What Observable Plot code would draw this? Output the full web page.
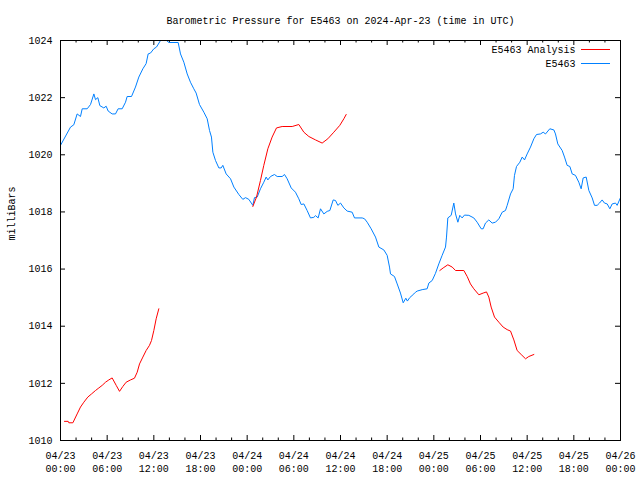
<!DOCTYPE html>
<html>
<head>
<meta charset="utf-8">
<script src="https://cdn.jsdelivr.net/npm/d3@7"></script>
<script src="https://cdn.jsdelivr.net/npm/@observablehq/plot@0.6"></script>
<style>
  html, body { margin: 0; padding: 0; background: white; }
  #chart { position: relative; width: 640px; height: 480px; }
  .swatch { position: absolute; height: 1px; }
</style>
</head>
<body>
<div id="chart"></div>
<script>
const titleText = "Barometric Pressure for E5463 on 2024-Apr-23 (time in UTC)";
const yLabel = "milliBars";
const seriesNames = ["E5463 Analysis", "E5463"];
const seriesColors = ["#ff0000", "#0080ff"];
const startDate = Date.UTC(2024, 3, 23);
const endHours = 72;
const yTicks = [1010, 1012, 1014, 1016, 1018, 1020, 1022, 1024];

// Observed station series: hours after 2024-04-23 00:00 UTC, pressure (mb)
const obsHours = [0,1.29,1.71,2.14,2.57,2.79,3.43,3.86,4.29,4.5,4.8,5.06,5.57,5.87,6.13,6.64,7.07,7.41,7.93,8.36,8.57,9.13,9.64,10.07,10.59,11.01,11.27,11.57,12.0,12.34,12.86,13.4,13.93,15.13,15.43,15.86,16.29,16.71,17.14,17.44,17.87,18.43,18.86,19.16,19.41,19.59,19.93,20.36,20.66,20.87,21.3,21.86,22.29,22.93,23.44,23.79,24.21,24.73,24.94,25.29,25.71,26.14,26.44,26.66,27.0,27.51,27.86,28.5,28.8,29.14,29.66,30.21,30.64,30.94,31.29,31.71,32.14,32.57,32.79,33.13,33.43,33.86,34.29,34.63,35.06,35.36,35.66,36.0,36.43,36.86,37.5,37.8,38.79,39.09,39.43,39.94,40.5,40.93,41.57,42.0,42.3,42.43,42.94,43.29,43.71,44.06,44.4,44.6,44.9,45.43,45.64,45.86,46.5,47.14,47.36,47.79,48.21,48.64,49.07,49.5,49.63,49.8,50.23,50.57,50.79,51.09,51.34,51.64,51.94,52.5,53.14,53.57,54.09,54.34,54.64,55.07,55.5,55.93,56.36,56.79,57.21,57.43,57.86,58.2,58.37,58.63,59.06,59.36,59.66,60.0,60.43,60.86,61.2,61.71,62.06,62.36,62.91,63.43,63.64,63.94,64.5,64.8,65.14,65.49,65.79,66.21,66.64,66.94,67.2,67.59,67.93,68.36,68.66,69.0,69.3,69.64,69.94,70.29,70.63,70.93,71.36,71.57,72.0];
const obsPressure = [1020.33,1020.97,1021.05,1021.43,1021.34,1021.61,1021.61,1021.76,1022.13,1021.93,1022.0,1021.72,1021.64,1021.7,1021.53,1021.43,1021.43,1021.61,1021.61,1021.84,1022.04,1022.04,1022.37,1022.72,1023.01,1023.19,1023.53,1023.56,1023.71,1023.77,1024.0,1024.05,1023.93,1023.93,1023.53,1023.24,1022.83,1022.54,1022.31,1022.16,1021.76,1021.49,1021.26,1020.85,1020.62,1020.09,1019.8,1019.54,1019.54,1019.63,1019.33,1019.16,1018.87,1018.61,1018.44,1018.5,1018.44,1018.23,1018.5,1018.52,1018.81,1019.04,1019.22,1019.12,1019.24,1019.31,1019.24,1019.24,1019.31,1019.16,1018.84,1018.69,1018.46,1018.26,1018.28,1018.05,1017.79,1017.81,1017.87,1017.79,1018.11,1017.93,1018.02,1018.05,1018.42,1018.4,1018.23,1018.31,1018.14,1018.03,1017.99,1017.79,1017.79,1017.76,1017.64,1017.41,1017.12,1016.77,1016.67,1016.48,1016.07,1015.83,1015.74,1015.48,1015.16,1014.82,1014.98,1014.88,1015.0,1015.13,1015.19,1015.23,1015.28,1015.31,1015.51,1015.6,1015.85,1016.18,1016.48,1016.77,1017.12,1017.79,1017.88,1018.31,1017.93,1017.64,1017.88,1017.79,1017.89,1017.88,1017.79,1017.64,1017.41,1017.41,1017.61,1017.72,1017.61,1017.64,1017.76,1017.99,1018.05,1018.23,1018.63,1018.81,1019.28,1019.59,1019.74,1019.92,1019.82,1020.03,1020.27,1020.56,1020.71,1020.73,1020.79,1020.73,1020.91,1020.87,1020.73,1020.38,1020.15,1019.92,1019.63,1019.59,1019.33,1019.28,1019.04,1018.81,1019.19,1019.22,1018.75,1018.49,1018.23,1018.23,1018.31,1018.42,1018.31,1018.28,1018.11,1018.28,1018.31,1018.23,1018.5];

// Analysis series: three separate runs (hours, pressure)
const ana1Hours = [0.51,0.99,1.07,1.59,2.14,2.57,3.0,3.51,3.99,4.5,4.93,5.36,5.79,6.21,6.64,7.16,7.59,8.01,8.44,9.0,9.51,9.86,10.16,10.59,11.01,11.44,11.7,12.0,12.3,12.64];
const ana1Pressure = [1010.67,1010.67,1010.62,1010.62,1010.93,1011.17,1011.34,1011.52,1011.63,1011.75,1011.84,1011.93,1012.04,1012.12,1012.19,1011.93,1011.72,1011.89,1012.04,1012.12,1012.18,1012.39,1012.68,1012.92,1013.15,1013.33,1013.5,1013.85,1014.26,1014.61];
const ana2Hours = [24.73,25.2,25.71,26.14,26.66,27.21,27.77,28.5,29.79,30.64,31.29,31.93,32.79,33.64,34.37,35.14,35.91,36.43,36.73];
const ana2Pressure = [1018.19,1018.52,1019.1,1019.63,1020.21,1020.62,1020.94,1020.99,1020.99,1021.06,1020.79,1020.64,1020.52,1020.41,1020.56,1020.79,1021.03,1021.26,1021.41];
const ana3Hours = [48.77,49.2,49.8,50.36,50.79,51.86,52.29,52.71,53.14,53.79,54.34,54.77,55.07,55.37,55.8,56.36,56.91,57.43,57.86,58.29,58.71,59.23,59.79,60.21,60.86];
const ana3Pressure = [1015.95,1016.04,1016.15,1016.07,1015.95,1015.95,1015.74,1015.48,1015.31,1015.1,1015.16,1015.2,1015.02,1014.67,1014.32,1014.14,1013.97,1013.88,1013.83,1013.52,1013.15,1013.01,1012.86,1012.94,1013.01];

const toDate = h => new Date(startDate + h * 3600e3);
const obs = obsHours.map((h, i) => ({t: toDate(h), p: obsPressure[i]}));
const ana = [[ana1Hours, ana1Pressure], [ana2Hours, ana2Pressure], [ana3Hours, ana3Pressure]]
  .flatMap(([hs, ps], run) => hs.map((h, i) => ({t: toDate(h), p: ps[i], run})));

const x0 = toDate(0), x1 = toDate(endHours);
const majorTicks = d3.utcHour.every(6).range(x0, new Date(+x1 + 1));
const minorTicks = d3.utcHour.every(2).range(x0, new Date(+x1 + 1)).filter(d => d.getUTCHours() % 6 !== 0);
const fmtTick = d3.utcFormat("%m/%d\n%H:%M");
const font = "'Liberation Mono', 'DejaVu Sans Mono', monospace";

const W = 640, H = 480, mL = 60, mR = 20, mT = 40, mB = 40;
const fw = W - mL - mR, fh = H - mT - mB;
const major = 5, minor = 2.5;

const chart = Plot.plot({
  width: W,
  height: H,
  marginLeft: mL,
  marginRight: mR,
  marginTop: mT,
  marginBottom: mB,
  style: {fontFamily: font, fontSize: "10px", background: "white", color: "black"},
  x: {type: "utc", domain: [x0, x1], label: null},
  y: {domain: [1010, 1024], label: null},
  marks: [
    Plot.axisX(majorTicks, {anchor: "bottom", tickSize: 0, tickPadding: 9, tickFormat: fmtTick, lineHeight: 1.3, fontSize: 10}),
    Plot.axisY(yTicks, {anchor: "left", tickSize: 0, tickPadding: 8, tickFormat: d => String(d), fontSize: 10}),
    // inward ticks on all four sides
    Plot.ruleX(majorTicks, {x: d => d, insetTop: fh - major, stroke: "black"}),
    Plot.ruleX(majorTicks, {x: d => d, insetBottom: fh - major, stroke: "black"}),
    Plot.ruleX(minorTicks, {x: d => d, insetTop: fh - minor, stroke: "black"}),
    Plot.ruleX(minorTicks, {x: d => d, insetBottom: fh - minor, stroke: "black"}),
    Plot.ruleY(yTicks, {y: d => d, insetRight: fw - major, stroke: "black"}),
    Plot.ruleY(yTicks, {y: d => d, insetLeft: fw - major, stroke: "black"}),
    Plot.line(obs, {x: "t", y: "p", stroke: seriesColors[1], strokeWidth: 1, clip: true}),
    Plot.line(ana, {x: "t", y: "p", z: "run", stroke: seriesColors[0], strokeWidth: 1, clip: true}),
    Plot.frame({stroke: "black", strokeWidth: 1}),
    Plot.text([titleText], {frameAnchor: "top", dy: -20, lineAnchor: "middle", fontSize: 10}),
    Plot.text([yLabel], {frameAnchor: "left", dx: -49, rotate: -90, lineAnchor: "middle", fontSize: 10}),
    Plot.text([seriesNames[0]], {frameAnchor: "top-right", dx: -45, dy: 9, textAnchor: "end", lineAnchor: "middle", fontSize: 10}),
    Plot.text([seriesNames[1]], {frameAnchor: "top-right", dx: -45, dy: 23, textAnchor: "end", lineAnchor: "middle", fontSize: 10})
  ]
});

const container = document.getElementById("chart");
container.appendChild(chart);
// legend samples
[[seriesColors[0], 49], [seriesColors[1], 63]].forEach(([c, y]) => {
  const s = document.createElement("div");
  s.className = "swatch";
  s.style.left = "581px";
  s.style.top = y + "px";
  s.style.width = "29px";
  s.style.background = c;
  container.appendChild(s);
});
</script>
</body>
</html>
